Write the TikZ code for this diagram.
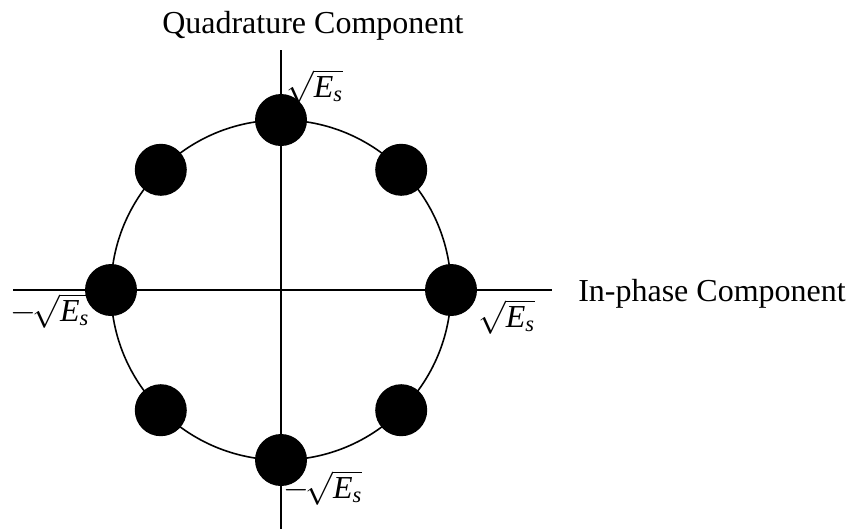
\documentclass[tikz,border=0pt]{standalone}
\usepackage{amsmath}
\usepackage{fontspec}
\setmainfont{Liberation Serif}
\newcommand{\EsLabel}{\sqrt{\textit{E}_{\textit{s}}}}
\newcommand{\NegEsLabel}{-\mkern-2mu\EsLabel}
\begin{document}
\begin{tikzpicture}[x=0.75pt,y=-0.75pt,
  axis/.style={line width=1.5pt},
  ring/.style={line width=1.2pt},
  sym/.style={circle, fill=black, draw=none, minimum size=39pt, inner sep=0pt},
  title/.style={font=\fontsize{24}{29}\selectfont, inner sep=0pt},
  lbl/.style={font=\fontsize{24}{29}\selectfont, inner sep=0pt}]
\useasboundingbox (0,0) rectangle (852,529);
\coordinate (o) at (281,290);
\coordinate (yt) at (281,50);
\coordinate (yb) at (281,529);
\coordinate (xl) at (13,290);
\coordinate (xr) at (552,290);
\draw[axis] (yt) -- (yb);
\draw[axis] (xl) -- (xr);
\draw[ring] (o) circle[radius=127.5pt];
\foreach \a/\n in {0/p0,45/p1,90/p2,135/p3,180/p4,225/p5,270/p6,315/p7}
  \node[sym] (\n) at ([shift={(\a:127.5pt)}]o) {};
\node[title, anchor=base west] (qt) at (162,33) {Quadrature Component};
\node[title, anchor=base west] (it) at (578,301) {In-phase Component};
\node[lbl, anchor=base west] (lt) at (286,97) {$\EsLabel$};
\node[lbl, anchor=base west] (lr) at (478,327) {$\EsLabel$};
\node[lbl, anchor=base west] (ll) at (10,321) {$\NegEsLabel$};
\node[lbl, anchor=base west] (lb) at (283,498) {$\NegEsLabel$};
\end{tikzpicture}
\end{document}
